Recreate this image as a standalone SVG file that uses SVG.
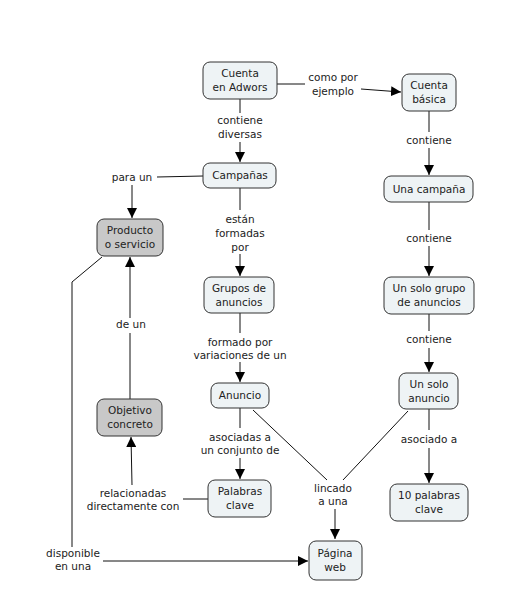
<svg xmlns="http://www.w3.org/2000/svg" width="508" height="597" viewBox="0 0 508 597">
<defs>
<style>
.n rect{fill:#eef3f5;stroke:#333;stroke-width:1}
.g rect{fill:#c8c8c8;stroke:#333;stroke-width:1}
text{font-family:"DejaVu Sans","Liberation Sans",sans-serif;font-size:10.5px;fill:#222;text-anchor:middle}
.c line,.c polyline{stroke:#111;stroke-width:1;fill:none}
.a{marker-end:url(#ar)}
</style>
<marker id="ar" viewBox="0 0 10 10" refX="10" refY="5" markerWidth="10" markerHeight="10" markerUnits="userSpaceOnUse" orient="auto">
<path d="M0,0 L10,5 L0,10 Z" fill="#000"/>
</marker>
</defs>
<rect width="508" height="597" fill="#fff"/>
<g class="c">
<line x1="277" y1="84" x2="305" y2="84"/>
<line class="a" x1="361" y1="89" x2="401" y2="92"/>
<line x1="240" y1="99" x2="240" y2="113"/>
<line class="a" x1="240" y1="142" x2="240" y2="162"/>
<line x1="203" y1="176" x2="157" y2="177"/>
<line class="a" x1="132" y1="185" x2="132" y2="218"/>
<line x1="240" y1="188" x2="240" y2="210"/>
<line class="a" x1="240" y1="254" x2="240" y2="276"/>
<polyline points="102,257 72,282 72,547"/>
<line class="a" x1="103" y1="561" x2="308" y2="561"/>
<line x1="130" y1="399" x2="130" y2="333"/>
<line class="a" x1="130" y1="318" x2="130" y2="257"/>
<line x1="208" y1="499" x2="183" y2="499"/>
<line class="a" x1="132" y1="485" x2="131" y2="437"/>
<line x1="240" y1="313" x2="240" y2="333"/>
<line class="a" x1="240" y1="362" x2="240" y2="382"/>
<line x1="240" y1="408" x2="240" y2="428"/>
<line class="a" x1="240" y1="458" x2="240" y2="479"/>
<line x1="253" y1="410" x2="327" y2="480"/>
<line x1="408" y1="411" x2="343" y2="480"/>
<line class="a" x1="335" y1="509" x2="335" y2="539"/>
<line x1="429" y1="111" x2="429" y2="132"/>
<line class="a" x1="429" y1="148" x2="429" y2="175"/>
<line x1="429" y1="202" x2="429" y2="230"/>
<line class="a" x1="429" y1="246" x2="429" y2="276"/>
<line x1="429" y1="314" x2="429" y2="331"/>
<line class="a" x1="429" y1="348" x2="429" y2="372"/>
<line x1="429" y1="409" x2="429" y2="430"/>
<line class="a" x1="429" y1="448" x2="429" y2="483"/>
</g>
<g id="labels">
<text x="240" y="124">contiene</text><text x="240" y="138">diversas</text>
<text x="333" y="81">como por</text><text x="333" y="95">ejemplo</text>
<text x="429" y="144">contiene</text>
<text x="132" y="181">para un</text>
<text x="240" y="223">están</text><text x="240" y="237">formadas</text><text x="240" y="251">por</text>
<text x="429" y="242">contiene</text>
<text x="131" y="328">de un</text>
<text x="240" y="346">formado por</text><text x="240" y="359">variaciones de un</text>
<text x="429" y="343">contiene</text>
<text x="240" y="441">asociadas a</text><text x="240" y="454">un conjunto de</text>
<text x="429" y="443">asociado a</text>
<text x="333" y="492">lincado</text><text x="333" y="505">a una</text>
<text x="133" y="497">relacionadas</text><text x="133" y="510">directamente con</text>
<text x="73" y="557">disponible</text><text x="73" y="570">en una</text>
</g>
<g id="n1" class="n"><rect x="203" y="62" width="74" height="37" rx="7"/><text x="240" y="77">Cuenta</text><text x="240" y="91">en Adwors</text></g>
<g id="n2" class="n"><rect x="402" y="74" width="54" height="37" rx="7"/><text x="429" y="89">Cuenta</text><text x="429" y="103">básica</text></g>
<g id="n3" class="n"><rect x="203" y="163" width="73" height="25" rx="7"/><text x="240" y="179">Campañas</text></g>
<g id="n4" class="g"><rect x="97" y="219" width="66" height="37" rx="7"/><text x="130" y="234">Producto</text><text x="130" y="248">o servicio</text></g>
<g id="n5" class="n"><rect x="384" y="176" width="89" height="26" rx="7"/><text x="429" y="193">Una campaña</text></g>
<g id="n6" class="n"><rect x="204" y="277" width="70" height="36" rx="7"/><text x="239" y="292">Grupos de</text><text x="239" y="306">anuncios</text></g>
<g id="n7" class="n"><rect x="384" y="277" width="90" height="37" rx="7"/><text x="429" y="292">Un solo grupo</text><text x="429" y="306">de anuncios</text></g>
<g id="n8" class="n"><rect x="211" y="383" width="58" height="25" rx="7"/><text x="240" y="399">Anuncio</text></g>
<g id="n9" class="n"><rect x="399" y="373" width="59" height="36" rx="7"/><text x="429" y="388">Un solo</text><text x="429" y="402">anuncio</text></g>
<g id="n10" class="g"><rect x="97" y="399" width="65" height="37" rx="7"/><text x="130" y="414">Objetivo</text><text x="130" y="428">concreto</text></g>
<g id="n11" class="n"><rect x="208" y="480" width="63" height="37" rx="7"/><text x="240" y="495">Palabras</text><text x="240" y="509">clave</text></g>
<g id="n12" class="n"><rect x="390" y="484" width="78" height="37" rx="7"/><text x="429" y="499">10 palabras</text><text x="429" y="513">clave</text></g>
<g id="n13" class="n"><rect x="309" y="541" width="53" height="39" rx="7"/><text x="335" y="557">Página</text><text x="335" y="571">web</text></g>
</svg>
